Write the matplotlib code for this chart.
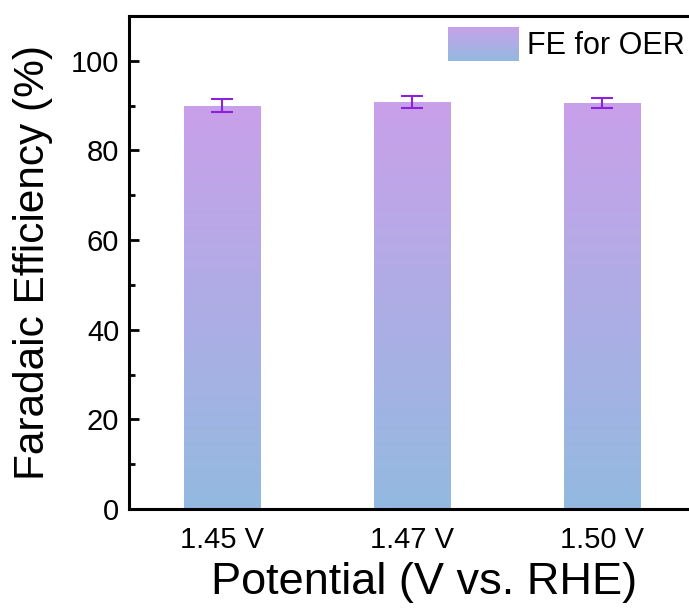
import numpy as np
import matplotlib
matplotlib.use("Agg")
import matplotlib.pyplot as plt
from matplotlib.colors import LinearSegmentedColormap
from matplotlib.patches import Rectangle

categories = ["1.45 V", "1.47 V", "1.50 V"]
fe_values = [90.0, 90.8, 90.6]
fe_errors = [1.5, 1.25, 1.05]

plt.rcParams['font.family'] = ['Liberation Sans', 'DejaVu Sans']

top_color = "#C9A0EA"
bottom_color = "#93BAE0"
err_color = "#8A22E0"
cmap = LinearSegmentedColormap.from_list("fe", [bottom_color, top_color])

fig = plt.figure(figsize=(6.89, 6.09), dpi=100)
# axes extends past the right edge of the (cropped) figure
ax = fig.add_axes([129/689, 100/609, 591/689, 493/609])

x = np.arange(len(categories))
bars = ax.bar(x, fe_values, width=0.4, color="none", edgecolor="none", zorder=2)
grad = np.linspace(0, 1, 256).reshape(-1, 1)
for b in bars:
    x0, y0 = b.get_x(), b.get_y()
    w, h = b.get_width(), b.get_height()
    im = ax.imshow(grad, cmap=cmap, origin="lower", aspect="auto",
                   extent=(x0, x0 + w, y0, y0 + h), zorder=2)
    im.set_clip_path(b)

ax.errorbar(x, fe_values, yerr=fe_errors, fmt="none", ecolor=err_color,
            elinewidth=1.5, capsize=8, capthick=1.5, zorder=3)

ax.set_xlim(-0.49, 2.62)
ax.set_ylim(0, 110)
ax.set_xticks(x)
ax.set_xticklabels(categories)
ax.set_yticks(np.arange(0, 101, 20))
ax.set_yticks(np.arange(10, 101, 20), minor=True)

for s in ax.spines.values():
    s.set_linewidth(2.2)
ax.tick_params(axis="both", which="major", direction="in", length=7, width=2,
               labelsize=21)
ax.tick_params(axis="y", which="minor", direction="in", length=4, width=2)
ax.tick_params(axis="x", pad=12)
ax.tick_params(axis="y", pad=7)

ax.set_xlabel("Potential (V vs. RHE)", fontsize=32.5, labelpad=6)
ax.set_ylabel("Faradaic Efficiency (%)", fontsize=30.5, labelpad=13)

handle = Rectangle((0, 0), 1, 1, facecolor="#B0ACE6", edgecolor="none")
leg = ax.legend([handle], ["FE for OER"], loc="upper right", frameon=False,
                fontsize=22, handlelength=2.3, handleheight=1.35,
                handletextpad=0.3, borderpad=0, borderaxespad=0,
                bbox_to_anchor=(0.941, 0.978))

fig.canvas.draw()
# overlay gradient on legend patch
lp = leg.get_patches()[0]
bb = lp.get_window_extent(fig.canvas.get_renderer())
inv = fig.transFigure.inverted()
(fx0, fy0), (fx1, fy1) = inv.transform([[bb.x0, bb.y0], [bb.x1, bb.y1]])
lax = fig.add_axes([fx0, fy0, fx1 - fx0, fy1 - fy0])
lax.imshow(grad, cmap=cmap, origin="lower", aspect="auto")
lax.axis("off")
lp.set_visible(False)

fig.savefig("out.png", dpi=100)
